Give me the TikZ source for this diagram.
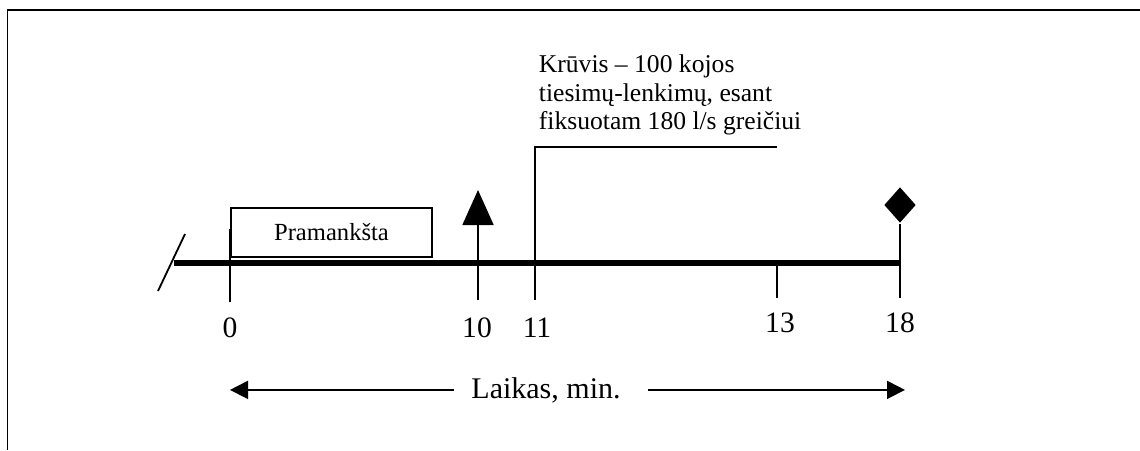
\documentclass[tikz,border=0pt]{standalone}
\usepackage{fontspec}
\setmainfont{Liberation Serif}
\usetikzlibrary{arrows.meta,positioning,shapes.geometric}

\begin{document}
\begin{tikzpicture}[x=0.5pt,y=-0.5pt,line width=0.9pt,
		axis/.style={line width=3.4pt},
		num/.style={font=\fontsize{14.8}{17}\selectfont,inner sep=0pt,anchor=base},
		headtip/.style={-{Triangle[length=9pt,width=9pt]}}]
	\useasboundingbox (0,0) rectangle (1140,450);
	% frame
	\draw (7.5,450) -- (7.5,10) -- (1140,10);
	% time axis
	\coordinate (a_s) at (174,263);
	\coordinate (a_e) at (900,263);
	\draw[axis] (a_s) -- (a_e);
	\draw (158,291) -- (185,234);
	% ticks
	\draw (230,229) -- (230,302);
	\draw[-{Triangle[length=17.5pt,width=15.5pt]}] (478,300) -- (478,190);
	\draw (535,300) -- (535,147) -- (777,147);
	\draw (777,265) -- (777,298);
	\node[diamond,fill,inner sep=0pt,minimum width=16pt,minimum height=18pt] (d_18) at (900,205) {};
	\draw (d_18.south) -- (900,298);
	\node[num] (t_0) at (230,337) {0};
	\node[num] (t_10) at (477,337) {10};
	\node[num] (t_11) at (537,337) {11};
	\node[num] (t_13) at (780,332) {13};
	\node[num] (t_18) at (900,332) {18};
	% labels
	\node[draw,line width=0.6pt,minimum width=100.5pt,minimum height=24.5pt,inner sep=0pt,
		font=\fontsize{12.3}{14}\selectfont] (warmup) at (331.5,232.5) {Pramankšta};
	\node[anchor=north west,align=left,inner sep=0pt,font=\fontsize{12.8}{14.25}\selectfont]
		(load) at (538,54) {Krūvis – 100 kojos\\tiesimų-lenkimų, esant\\fiksuotam 180 l/s greičiui};
	\node[font=\fontsize{15}{18}\selectfont,inner sep=0pt,anchor=base] (time) at (546,398) {Laikas, min.};
	\coordinate (arr_l) at (230,0);
	\coordinate (arr_r) at (905,0);
	\draw[headtip] ([xshift=-8.5pt]time.west) -- (time.west -| arr_l);
	\draw[headtip] ([xshift=13.5pt]time.east) -- (time.east -| arr_r);
\end{tikzpicture}
\end{document}
